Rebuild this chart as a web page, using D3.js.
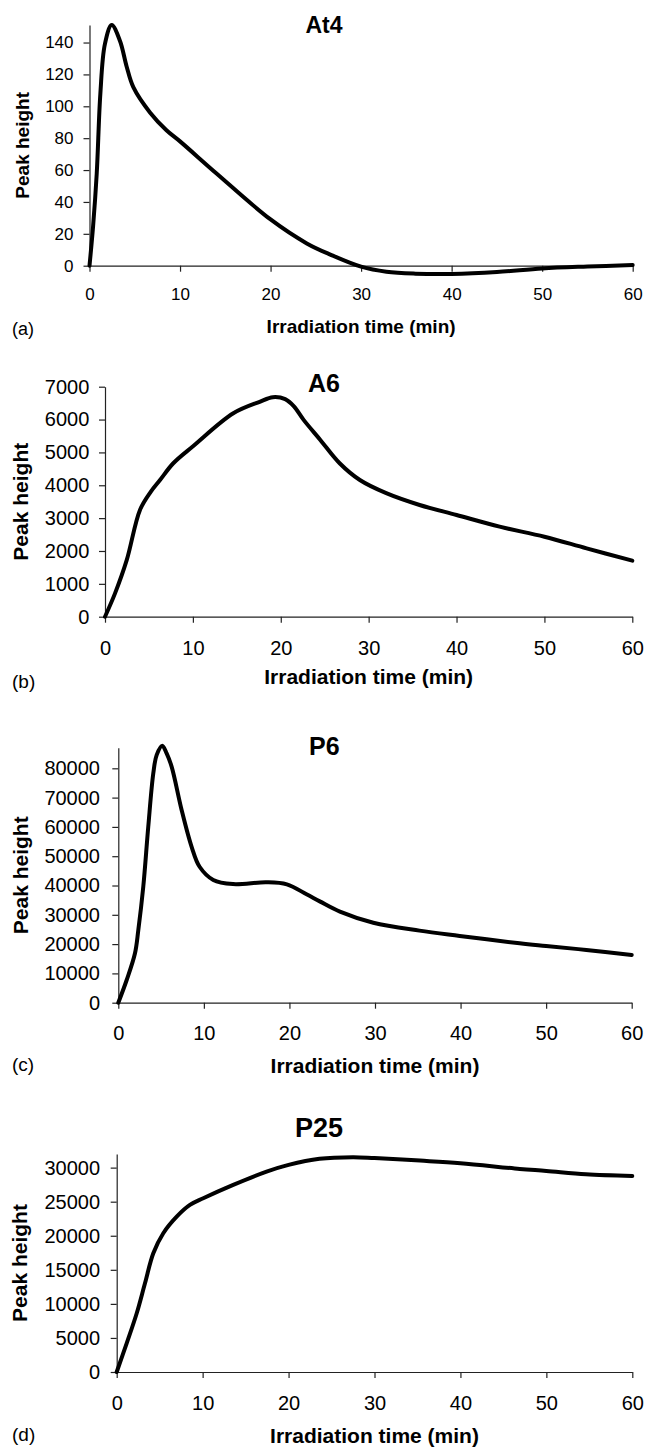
<!DOCTYPE html>
<html>
<head>
<meta charset="utf-8">
<script src="https://cdn.jsdelivr.net/npm/d3@7"></script>
<style>
  body { margin: 0; background: #fff; }
  svg { display: block; font-family: "Liberation Sans", Arial, sans-serif; }
</style>
</head>
<body>
<div id="chart"></div>
<script>
// values (time in min, peak height)
const timeTicks = [0, 10, 20, 30, 40, 50, 60];

const at4Time   = [0, 0.4, 0.8, 1.2, 1.7, 2.45, 3.37, 4.1, 4.84, 6.7, 8.5, 10, 14, 20, 24, 26.6, 30, 32.8, 36, 40, 45, 50, 55, 60];
const at4Height = [0, 25, 58, 108, 139, 151, 141, 125, 112, 96, 85, 78, 58, 29, 14, 7, -0.6, -3.8, -5, -5.2, -4, -1.7, -0.5, 0.4];
const at4Ticks  = [0, 20, 40, 60, 80, 100, 120, 140];

const a6Time   = [0, 1.14, 2.47, 3.98, 5.2, 6.26, 7.77, 10.05, 14.6, 17.6, 19.1, 20.5, 21.5, 22.6, 24.5, 26.7, 29, 32, 35.8, 40, 44.9, 50, 54.8, 60];
const a6Height = [0, 710, 1720, 3250, 3800, 4160, 4670, 5195, 6190, 6540, 6680, 6620, 6400, 5990, 5380, 4670, 4160, 3760, 3400, 3095, 2740, 2435, 2080, 1705];
const a6Ticks  = [0, 1000, 2000, 3000, 4000, 5000, 6000, 7000];

const p6Time   = [0, 0.98, 1.95, 2.34, 2.92, 3.5, 4.09, 4.48, 5.14, 5.65, 6.24, 7.4, 8.57, 9.5, 11.1, 13.4, 17.3, 19.7, 22, 23.6, 25.9, 29.8, 35.2, 39.9, 46.9, 50, 54.7, 60];
const p6Height = [0, 7750, 16860, 24800, 39600, 60000, 78300, 84500, 87700, 85100, 80500, 65800, 53200, 46400, 41900, 40500, 41100, 40400, 37000, 34500, 31100, 27300, 24600, 22800, 20270, 19350, 18000, 16280];
const p6Ticks  = [0, 10000, 20000, 30000, 40000, 50000, 60000, 70000, 80000];

const p25Time   = [0, 1.16, 2.33, 3.29, 4.26, 5.42, 6.98, 8.52, 10.07, 13.56, 17.44, 20, 23.6, 27.5, 30, 35.3, 40, 46.9, 50, 54.6, 60];
const p25Height = [0, 4210, 8620, 13020, 17430, 20370, 22800, 24520, 25500, 27460, 29410, 30400, 31300, 31530, 31400, 31030, 30650, 29810, 29520, 29030, 28780];
const p25Ticks  = [0, 5000, 10000, 15000, 20000, 25000, 30000];

// layout of the four stacked panels
const panels = [
  { title: "At4", tag: "(a)", time: at4Time, height: at4Height, ticks: at4Ticks, yTop: 151,
    left: 89.5, right: 632.7, top: 25, bottom: 265.7,
    tickFont: 17, labelFont: 19, titleFont: 23, tagFont: 18,
    titleX: 324, titleY: 33, xTickDy: 34.3, xLabelY: 333, tagY: 335, yLabelX: 28.5, yPad: 10 },
  { title: "A6", tag: "(b)", time: a6Time, height: a6Height, ticks: a6Ticks, yTop: 7000,
    left: 105, right: 632.3, top: 386.7, bottom: 616.7,
    tickFont: 20, labelFont: 21, titleFont: 25, tagFont: 19,
    titleX: 324, titleY: 392, xTickDy: 38.3, xLabelY: 683.5, tagY: 688, yLabelX: 28, yPad: 9.7 },
  { title: "P6", tag: "(c)", time: p6Time, height: p6Height, ticks: p6Ticks, yTop: 87000,
    left: 118.3, right: 631.7, top: 747.8, bottom: 1002.7,
    tickFont: 20, labelFont: 21, titleFont: 25, tagFont: 19,
    titleX: 324.3, titleY: 755, xTickDy: 37.3, xLabelY: 1073, tagY: 1071, yLabelX: 28, yPad: 12.3 },
  { title: "P25", tag: "(d)", time: p25Time, height: p25Height, ticks: p25Ticks, yTop: 32000,
    left: 116.7, right: 632.3, top: 1154, bottom: 1372,
    tickFont: 20, labelFont: 21, titleFont: 27, tagFont: 19,
    titleX: 319, titleY: 1137, xTickDy: 38, xLabelY: 1443, tagY: 1441, yLabelX: 27, yPad: 10.7 }
];

const width = 645, height = 1450;

const svg = d3.select("#chart")
  .append("svg")
    .attr("width", width)
    .attr("height", height)
    .attr("viewBox", `0 0 ${width} ${height}`);

panels.forEach(p => {
  const x = d3.scaleLinear().domain([0, 60]).range([p.left, p.right]);
  const y = d3.scaleLinear().domain([0, p.yTop]).range([p.bottom, p.top]);

  const g = svg.append("g");

  // x axis
  const xAxis = g.append("g")
    .attr("transform", `translate(0, ${p.bottom})`)
    .call(d3.axisBottom(x).tickValues(timeTicks).tickSize(6).tickSizeOuter(0).tickFormat(d3.format("d")));
  xAxis.selectAll("text")
    .attr("y", p.xTickDy)
    .attr("dy", null)
    .style("font-size", p.tickFont + "px");

  // y axis
  const yAxis = g.append("g")
    .attr("transform", `translate(${p.left}, 0)`)
    .call(d3.axisLeft(y).tickValues(p.ticks).tickSize(6).tickSizeOuter(0).tickPadding(p.yPad).tickFormat(d3.format("d")));
  yAxis.selectAll("text")
    .style("font-size", p.tickFont + "px");

  g.selectAll(".domain, .tick line")
    .attr("stroke", "#222")
    .attr("stroke-width", 1.2);
  g.selectAll(".tick text").attr("fill", "#000");

  // curve
  const line = d3.line()
    .x(d => x(d[0]))
    .y(d => y(d[1]))
    .curve(d3.curveCatmullRom.alpha(0.5));

  g.append("path")
    .datum(d3.zip(p.time, p.height))
    .attr("d", line)
    .attr("fill", "none")
    .attr("stroke", "#000")
    .attr("stroke-width", 4)
    .attr("stroke-linejoin", "round")
    .attr("stroke-linecap", "round");

  // title
  g.append("text")
    .text(p.title)
    .attr("x", p.titleX)
    .attr("y", p.titleY)
    .attr("text-anchor", "middle")
    .style("font-size", p.titleFont + "px")
    .style("font-weight", 700);

  // axis labels
  g.append("text")
    .text("Irradiation time (min)")
    .attr("x", (p.left + p.right) / 2)
    .attr("y", p.xLabelY)
    .attr("text-anchor", "middle")
    .style("font-size", p.labelFont + "px")
    .style("font-weight", 700);

  g.append("text")
    .text("Peak height")
    .attr("transform", `translate(${p.yLabelX}, ${(p.top + p.bottom) / 2}) rotate(-90)`)
    .attr("text-anchor", "middle")
    .style("font-size", p.labelFont + "px")
    .style("font-weight", 700);

  // panel tag
  g.append("text")
    .text(p.tag)
    .attr("x", 12)
    .attr("y", p.tagY)
    .style("font-size", p.tagFont + "px");
});
</script>
</body>
</html>
